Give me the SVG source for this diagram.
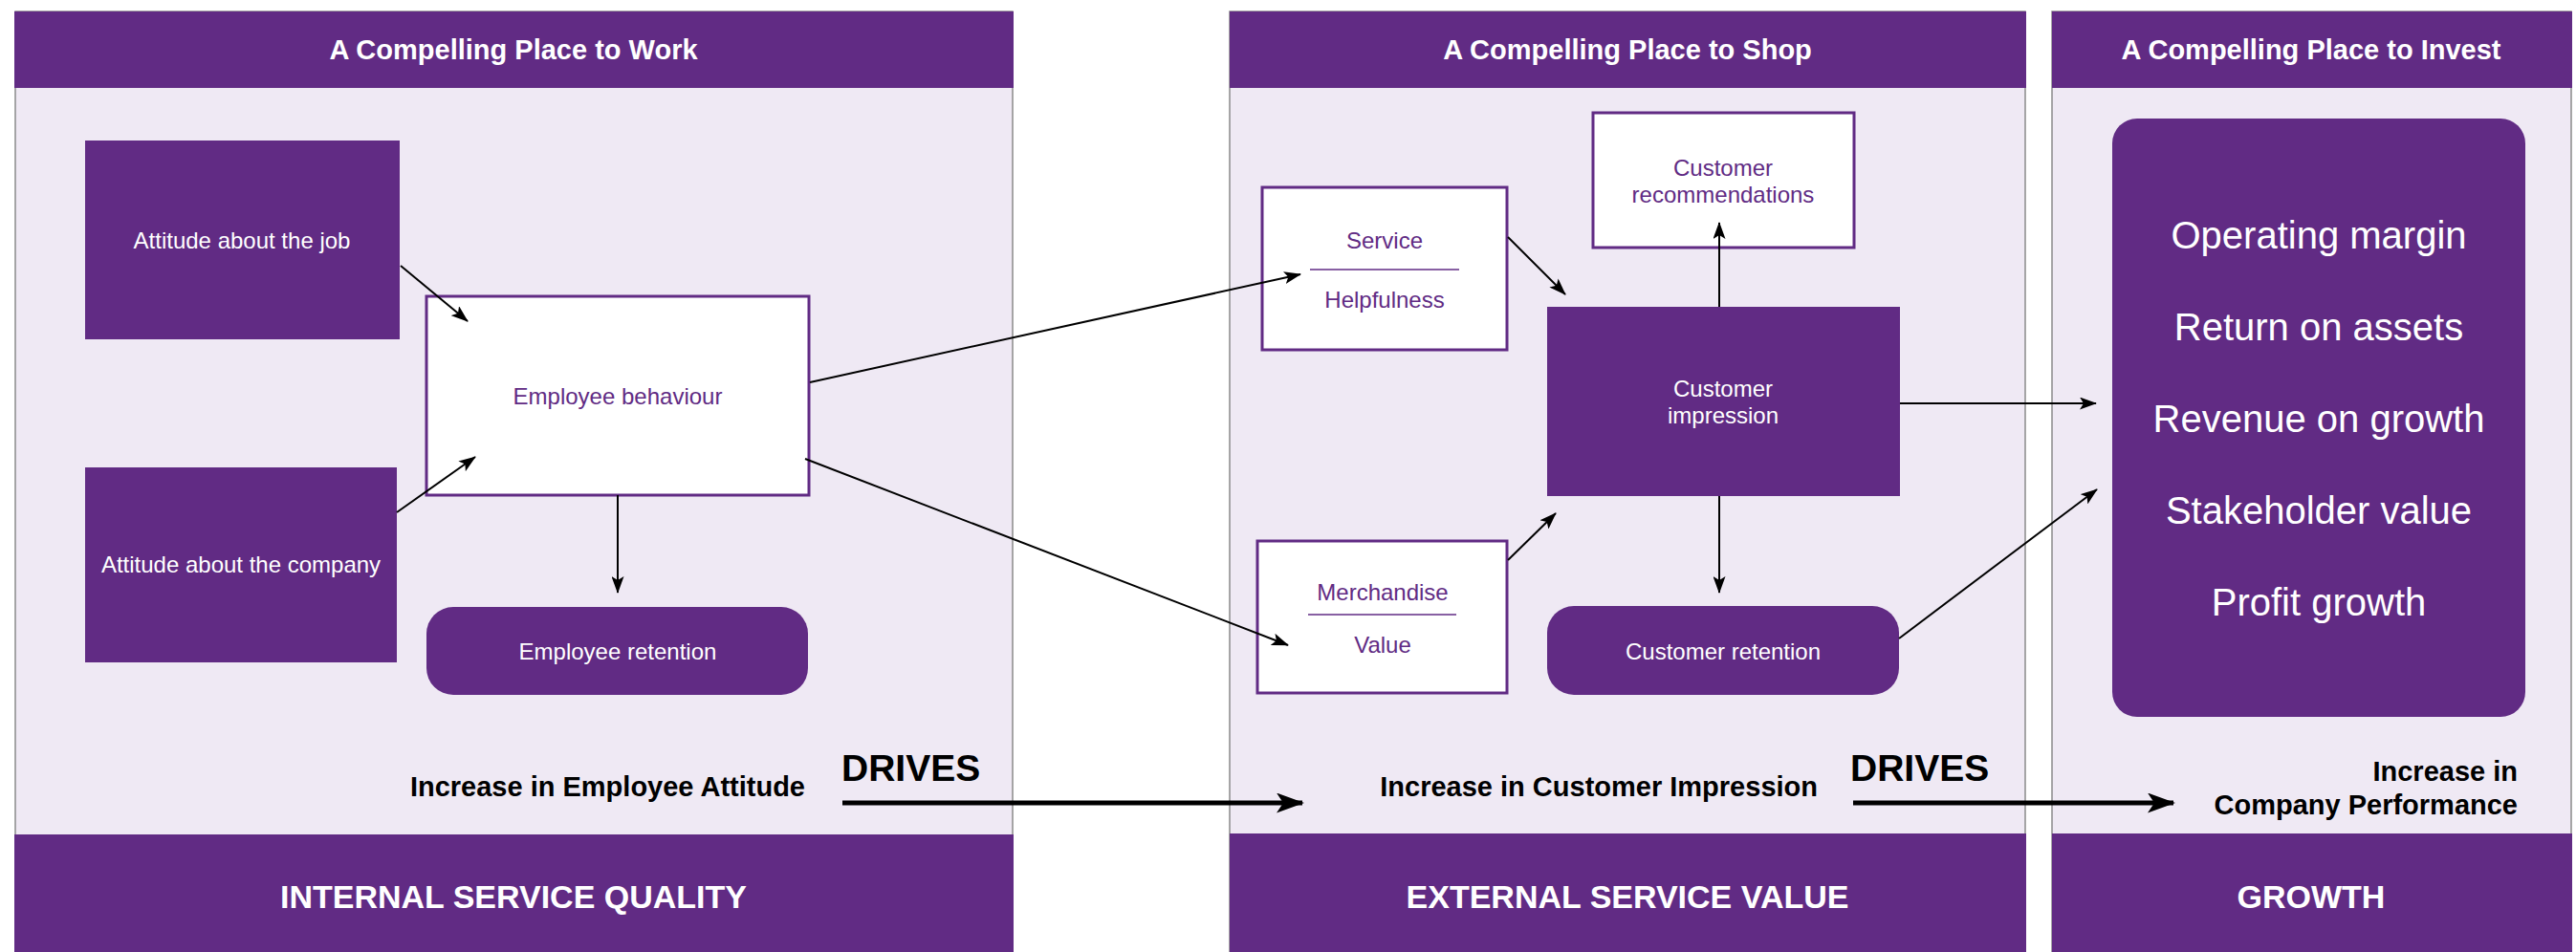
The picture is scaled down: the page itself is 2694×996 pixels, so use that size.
<svg xmlns="http://www.w3.org/2000/svg" width="2694" height="996" viewBox="0 0 2694 996">
  <defs>
    <style>
      text { font-family: "Liberation Sans", Arial, Helvetica, sans-serif; }
      .panel { fill: #efe9f4; stroke: #8a8a8a; stroke-width: 1.5; }
      .band { fill: #612b84; }
      .head { fill: #ffffff; font-size: 29px; font-weight: bold; text-anchor: middle; }
      .foot { fill: #ffffff; font-size: 34px; font-weight: bold; text-anchor: middle; }
      .solid { fill: #612b84; }
      .outline { fill: #ffffff; stroke: #612b84; stroke-width: 3; }
      .wlabel { fill: #ffffff; font-size: 24px; text-anchor: middle; }
      .plabel { fill: #612b84; font-size: 24px; text-anchor: middle; }
      .big { fill: #ffffff; font-size: 40px; text-anchor: middle; }
      .rule { stroke: #612b84; stroke-width: 1.6; }
      .caption { fill: #000000; font-size: 29px; font-weight: bold; }
      .drives { fill: #000000; font-size: 39px; font-weight: bold; }
      .link { stroke: #000000; stroke-width: 2; fill: none; marker-end: url(#tip); }
      .flow { stroke: #000000; stroke-width: 5; fill: none; marker-end: url(#bigtip); }
    </style>
    <marker id="tip" markerUnits="userSpaceOnUse" markerWidth="18" markerHeight="13" refX="17" refY="6.5" orient="auto">
      <path d="M0,0 L18,6.5 L0,13 L4,6.5 z" fill="#000000"/>
    </marker>
    <marker id="bigtip" markerUnits="userSpaceOnUse" markerWidth="29" markerHeight="21" refX="27" refY="10.5" orient="auto">
      <path d="M0,0 L29,10.5 L0,21 L7,10.5 z" fill="#000000"/>
    </marker>
  </defs>

  <rect width="2694" height="996" fill="#ffffff"/>

  <!-- Column 1: work -->
  <g id="panel-work">
    <rect class="panel" x="16" y="12" width="1043" height="984"/>
    <rect class="band" x="15" y="12" width="1045" height="80"/>
    <text class="head" x="537" y="62">A Compelling Place to Work</text>
    <rect class="band" x="15" y="873" width="1045" height="123"/>
    <text class="foot" x="537" y="950">INTERNAL SERVICE QUALITY</text>
  </g>

  <!-- Column 2: shop -->
  <g id="panel-shop">
    <rect class="panel" x="1286" y="12" width="832" height="984"/>
    <rect class="band" x="1286" y="12" width="833" height="80"/>
    <text class="head" x="1702" y="62">A Compelling Place to Shop</text>
    <rect class="band" x="1286" y="872" width="833" height="124"/>
    <text class="foot" x="1702" y="950">EXTERNAL SERVICE VALUE</text>
  </g>

  <!-- Column 3: invest -->
  <g id="panel-invest">
    <rect class="panel" x="2146" y="12" width="543" height="984"/>
    <rect class="band" x="2146" y="12" width="544" height="80"/>
    <text class="head" x="2417" y="62">A Compelling Place to Invest</text>
    <rect class="band" x="2146" y="872" width="544" height="124"/>
    <text class="foot" x="2417" y="950">GROWTH</text>
  </g>

  <g id="attitude-job">
    <rect class="solid" x="89" y="147" width="329" height="208"/>
    <text class="wlabel" x="253" y="260">Attitude about the job</text>
  </g>

  <g id="attitude-company">
    <rect class="solid" x="89" y="489" width="326" height="204"/>
    <text class="wlabel" x="252" y="599">Attitude about the company</text>
  </g>

  <g id="employee-behaviour">
    <rect class="outline" x="446" y="310" width="400" height="208"/>
    <text class="plabel" x="646" y="423">Employee behaviour</text>
  </g>

  <g id="employee-retention">
    <rect class="solid" x="446" y="635" width="399" height="92" rx="28" ry="28"/>
    <text class="wlabel" x="646" y="690">Employee retention</text>
  </g>

  <g id="service">
    <rect class="outline" x="1320" y="196" width="256" height="170"/>
    <text class="plabel" x="1448" y="260">Service</text>
    <line class="rule" x1="1370" y1="282" x2="1526" y2="282"/>
    <text class="plabel" x="1448" y="322">Helpfulness</text>
  </g>

  <g id="merchandise">
    <rect class="outline" x="1315" y="566" width="261" height="159"/>
    <text class="plabel" x="1446" y="628">Merchandise</text>
    <line class="rule" x1="1368" y1="643" x2="1523" y2="643"/>
    <text class="plabel" x="1446" y="683">Value</text>
  </g>

  <g id="customer-recommendations">
    <rect class="outline" x="1666" y="118" width="273" height="141"/>
    <text class="plabel" x="1802" y="184">Customer</text>
    <text class="plabel" x="1802" y="212">recommendations</text>
  </g>

  <g id="customer-impression">
    <rect class="solid" x="1618" y="321" width="369" height="198"/>
    <text class="wlabel" x="1802" y="415">Customer</text>
    <text class="wlabel" x="1802" y="443">impression</text>
  </g>

  <g id="customer-retention">
    <rect class="solid" x="1618" y="634" width="368" height="93" rx="28" ry="28"/>
    <text class="wlabel" x="1802" y="690">Customer retention</text>
  </g>

  <g id="performance-measures">
    <rect class="solid" x="2209" y="124" width="432" height="626" rx="26" ry="26"/>
    <text class="big" x="2425" y="260">Operating margin</text>
    <text class="big" x="2425" y="356">Return on assets</text>
    <text class="big" x="2425" y="452">Revenue on growth</text>
    <text class="big" x="2425" y="548">Stakeholder value</text>
    <text class="big" x="2425" y="644">Profit growth</text>
  </g>

  <g id="chain-labels">
    <text class="caption" x="842" y="833" text-anchor="end">Increase in Employee Attitude</text>
    <text class="drives" x="880" y="817">DRIVES</text>
    <text class="caption" x="1901" y="833" text-anchor="end">Increase in Customer Impression</text>
    <text class="drives" x="1935" y="817">DRIVES</text>
    <text class="caption" x="2633" y="817" text-anchor="end">Increase in</text>
    <text class="caption" x="2633" y="852" text-anchor="end">Company Performance</text>
  </g>

  <g id="connectors">
    <line class="link" x1="419" y1="278" x2="489" y2="336"/>
    <line class="link" x1="415" y1="536" x2="497" y2="478"/>
    <line class="link" x1="646" y1="518" x2="646" y2="620"/>
    <line class="link" x1="847" y1="400" x2="1360" y2="287"/>
    <line class="link" x1="842" y1="480" x2="1347" y2="675"/>
    <line class="link" x1="1577" y1="248" x2="1637" y2="308"/>
    <line class="link" x1="1577" y1="586" x2="1627" y2="537"/>
    <line class="link" x1="1798" y1="321" x2="1798" y2="233"/>
    <line class="link" x1="1798" y1="519" x2="1798" y2="620"/>
    <line class="link" x1="1987" y1="422" x2="2192" y2="422"/>
    <line class="link" x1="1986" y1="668" x2="2193" y2="512"/>
    <line class="flow" x1="881" y1="840" x2="1362" y2="840"/>
    <line class="flow" x1="1938" y1="840" x2="2273" y2="840"/>
  </g>
</svg>
